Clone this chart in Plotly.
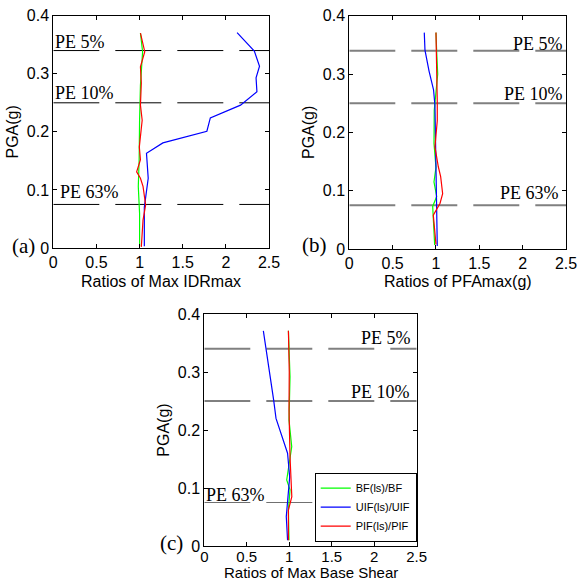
import plotly.graph_objects as go

# ---------------- data ----------------
series_names = ["BF(ls)/BF", "UIF(ls)/UIF", "PIF(ls)/PIF"]
series_colors = ["#00FF00", "#0000FF", "#FF0000"]
pe_labels = ["PE 5%", "PE 10%", "PE 63%"]
pe_levels = [0.34, 0.25, 0.075]
x_ticks = [0, 0.5, 1, 1.5, 2, 2.5]
y_ticks = [0, 0.1, 0.2, 0.3, 0.4]

# Panel (a): Ratios of Max IDRmax
a_bf_pga = [0.003, 0.06, 0.106, 0.152, 0.22, 0.28, 0.338, 0.370]
a_bf_ratio = [1.00, 1.00, 0.985, 0.995, 1.00, 1.01, 1.035, 1.01]
a_uif_pga = [0.003, 0.07, 0.12, 0.152, 0.163, 0.181, 0.201, 0.224, 0.246, 0.269, 0.293, 0.313, 0.339, 0.371]
a_uif_ratio = [1.055, 1.055, 1.10, 1.08, 1.08, 1.27, 1.78, 1.82, 2.17, 2.36, 2.35, 2.39, 2.33, 2.13]
a_pif_pga = [0.002, 0.048, 0.074, 0.106, 0.120, 0.131, 0.152, 0.174, 0.220, 0.246, 0.284, 0.312, 0.338, 0.370]
a_pif_ratio = [1.02, 1.04, 1.07, 1.04, 1.01, 0.966, 1.01, 0.997, 1.03, 1.01, 1.02, 1.01, 1.06, 1.01]

# Panel (b): Ratios of PFAmax(g)
b_bf_pga = [0.007, 0.056, 0.073, 0.090, 0.115, 0.14, 0.181, 0.238, 0.30, 0.338, 0.371]
b_bf_ratio = [0.985, 0.966, 0.962, 1.008, 0.977, 1.0, 0.977, 0.98, 1.02, 1.008, 1.0]
b_uif_pga = [0.005, 0.073, 0.096, 0.142, 0.199, 0.246, 0.273, 0.305, 0.341, 0.371]
b_uif_ratio = [1.015, 1.008, 1.008, 1.0, 1.0, 0.988, 0.972, 0.92, 0.873, 0.865]
b_pif_pga = [0.008, 0.038, 0.058, 0.078, 0.095, 0.124, 0.141, 0.175, 0.22, 0.25, 0.30, 0.371]
b_pif_ratio = [1.0, 0.977, 0.969, 1.046, 1.077, 1.054, 1.027, 0.988, 1.015, 1.015, 1.012, 1.0]

# Panel (c): Ratios of Max Base Shear
c_bf_pga = [0.010, 0.062, 0.097, 0.114, 0.171, 0.217, 0.292, 0.371]
c_bf_ratio = [0.997, 0.99, 1.009, 0.97, 1.029, 0.997, 1.009, 0.99]
c_uif_pga = [0.010, 0.051, 0.085, 0.119, 0.160, 0.191, 0.220, 0.252, 0.295, 0.340, 0.371]
c_uif_ratio = [0.98, 0.965, 0.985, 1.005, 0.98, 0.911, 0.844, 0.816, 0.773, 0.728, 0.695]
c_pif_pga = [0.010, 0.062, 0.085, 0.154, 0.235, 0.30, 0.371]
c_pif_ratio = [0.99, 0.99, 1.03, 1.009, 0.997, 1.0, 0.99]

panels = [
    dict(key="", tag="(a)", xtitle="Ratios of Max IDRmax",
         series=[(a_bf_ratio, a_bf_pga), (a_uif_ratio, a_uif_pga), (a_pif_ratio, a_pif_pga)]),
    dict(key="2", tag="(b)", xtitle="Ratios of PFAmax(g)",
         series=[(b_bf_ratio, b_bf_pga), (b_uif_ratio, b_uif_pga), (b_pif_ratio, b_pif_pga)]),
    dict(key="3", tag="(c)", xtitle="Ratios of Max Base Shear",
         series=[(c_bf_ratio, c_bf_pga), (c_uif_ratio, c_uif_pga), (c_pif_ratio, c_pif_pga)]),
]

# ---------------- layout geometry (pixels -> paper) ----------------
W, H = 579, 582
def px(x):
    return x / W
def py(y):
    return 1 - y / H

boxes = [  # left, right, top, bottom in pixels
    (53.3, 269.0, 15.7, 248.0),
    (349.3, 566.0, 15.7, 249.0),
    (204.3, 416.7, 314.0, 546.0),
]
tag_pos = [(23, 246), (314.5, 245), (171.5, 543)]
# x-title placement: (pixel y, anchor, font size)
xtitle_place = [(271.5, "top", 16), (271.5, "top", 16), (582, "bottom", 15)]
x_tick_standoff = [0, 0, -3]
x_tick_size = [16, 16, 15]
pe_line_styles = [
    [("black", 1), ("black", 1), ("black", 1)],
    [("#808080", 2), ("#808080", 2), ("#808080", 2)],
    [("#808080", 2), ("black", 1), ("#707070", 1)],
]
# label placement: (x data, anchor)
pe_label_pos = [
    [(0.0, "left"), (0.0, "left"), (0.05, "left")],
    [(2.49, "right"), (2.49, "right"), (2.44, "right")],
    [(2.46, "right"), (2.44, "right"), (0.0, "left")],
]
pe_label_shift = [
    [9, 10, 12],
    [7, 9, 12],
    [11, 9, 8],
]

SANS = "Liberation Sans, Arial, Helvetica, sans-serif"
SERIF = "Liberation Serif, Times New Roman, serif"

fig = go.Figure()
layout = dict(
    width=W, height=H,
    margin=dict(l=0, r=0, t=0, b=0),
    paper_bgcolor="white", plot_bgcolor="white",
    showlegend=True,
    template="none",
)
shapes = []
annotations = []

for i, p in enumerate(panels):
    k = p["key"]
    xa = "x" + k
    ya = "y" + k
    l, r, t, b = boxes[i]
    common = dict(
        showline=True, linecolor="black", linewidth=1, mirror="allticks",
        ticks="inside", ticklen=4, tickcolor="black", tickwidth=1,
        showgrid=False, zeroline=False, automargin=False,
        tickfont=dict(family=SANS, size=16, color="black"),
        title_font=dict(family=SANS, size=16, color="black"),
    )
    layout["xaxis" + k] = dict(
        common, domain=[px(l), px(r)], range=[0, 2.5], tickvals=x_ticks,
        ticktext=[f"{v:g}" for v in x_ticks], anchor=ya,
        ticklabelstandoff=x_tick_standoff[i],
    )
    layout["xaxis" + k]["tickfont"] = dict(family=SANS, size=x_tick_size[i], color="black")
    layout["yaxis" + k] = dict(
        common, domain=[py(b), py(t)], range=[0, 0.4], tickvals=y_ticks,
        ticktext=[f"{v:g}" for v in y_ticks],
        anchor=xa, title=dict(text="PGA(g)", standoff=4),
    )
    # x-axis title placed as text below the tick labels
    ty_px, yanc, fsz = xtitle_place[i]
    annotations.append(dict(
        x=(px(l) + px(r)) / 2, y=py(ty_px), xref="paper", yref="paper",
        text=p["xtitle"], showarrow=False, xanchor="center", yanchor=yanc,
        borderpad=0, font=dict(family=SANS, size=fsz, color="black"),
    ))
    for j, (xs, ys) in enumerate(p["series"]):
        fig.add_trace(go.Scatter(
            x=xs, y=ys, mode="lines", name=series_names[j],
            line=dict(color=series_colors[j], width=1.2),
            xaxis=xa, yaxis=ya, showlegend=(i == 2),
        ))
    for j, lev in enumerate(pe_levels):
        col, wid = pe_line_styles[i][j]
        shapes.append(dict(
            type="line", xref=xa, yref=ya, x0=0, x1=2.5, y0=lev, y1=lev,
            line=dict(color=col, width=wid, dash="46px,16px"), layer="below",
        ))
        lx, anc = pe_label_pos[i][j]
        annotations.append(dict(
            x=lx, y=lev, xref=xa, yref=ya, text=pe_labels[j], showarrow=False,
            xanchor=anc, yanchor="middle", yshift=pe_label_shift[i][j],
            font=dict(family=SERIF, size=18, color="black"),
        ))
    tx, ty = tag_pos[i]
    annotations.append(dict(
        x=px(tx), y=py(ty), xref="paper", yref="paper", text=p["tag"],
        showarrow=False, xanchor="center", yanchor="middle",
        font=dict(family=SERIF, size=21, color="black"),
    ))

layout["shapes"] = shapes
layout["annotations"] = annotations
layout["legend"] = dict(
    x=px(416.7), y=py(541.7), xanchor="right", yanchor="bottom",
    bgcolor="white", bordercolor="black", borderwidth=1,
    font=dict(family=SANS, size=11, color="black"),
    itemwidth=30, tracegroupgap=0,
)
fig.update_layout(**layout)
fig.write_html("out.html")
